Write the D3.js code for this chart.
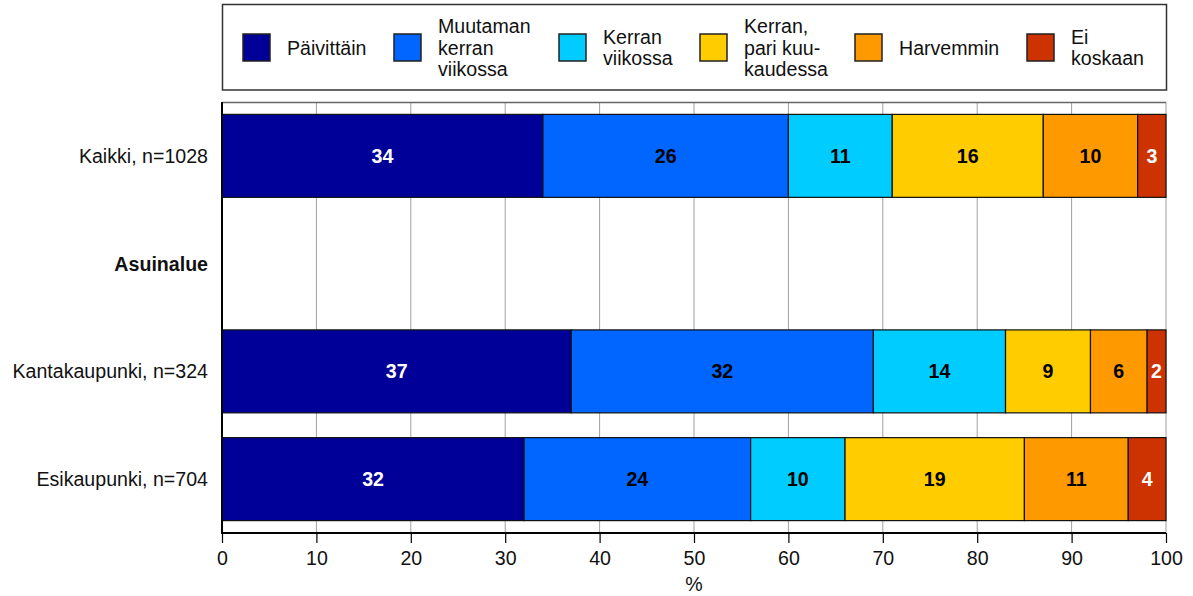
<!DOCTYPE html>
<html><head><meta charset="utf-8">
<script src="https://cdn.jsdelivr.net/npm/d3@7"></script>
<style>
body{margin:0;background:#fff;}
svg{display:block;font-family:"Liberation Sans",Arial,sans-serif;}
</style></head>
<body><svg id="c" width="1193" height="596"></svg>
<script>
const categories = ["Kaikki, n=1028", "Asuinalue", "Kantakaupunki, n=324", "Esikaupunki, n=704"];
const boldCategories = ["Asuinalue"];
const seriesNames = ["Päivittäin", "Muutaman\nkerran\nviikossa", "Kerran\nviikossa", "Kerran,\npari kuu-\nkaudessa", "Harvemmin", "Ei\nkoskaan"];
const seriesColors = ["#000099", "#0066FF", "#00CCFF", "#FFCC00", "#FF9900", "#CC3300"];
const labelColors = ["#fff", "#000", "#000", "#000", "#000", "#fff"];
const kaikki = [34, 26, 11, 16, 10, 3];
const kantakaupunki = [37, 32, 14, 9, 6, 2];
const esikaupunki = [32, 24, 10, 19, 11, 4];
const rowValues = {"Kaikki, n=1028": kaikki, "Kantakaupunki, n=324": kantakaupunki, "Esikaupunki, n=704": esikaupunki};
const xTicks = [0, 10, 20, 30, 40, 50, 60, 70, 80, 90, 100];
const xTitle = "%";
const legendX = [243, 394, 559, 700, 855, 1027];

(function(){
const svg = d3.select("#c");
const pL = 222, pR = 1166, pT = 102, pB = 533;
const FS = 19.6;

const x = d3.scaleLinear().domain([0, 100]).range([pL, pR]);
const y = d3.scaleBand().domain(categories).range([pT, pB]).paddingInner(0.23).paddingOuter(0.115);

// gridlines
svg.append("g").selectAll("line").data(xTicks.filter(d => d > 0)).join("line")
  .attr("x1", d => x(d)).attr("x2", d => x(d)).attr("y1", pT).attr("y2", pB)
  .attr("stroke", "#a0a0a0").attr("stroke-width", 1);
// top frame
svg.append("line").attr("x1", pL).attr("x2", pR).attr("y1", pT + 0.5).attr("y2", pT + 0.5)
  .attr("stroke", "#666").attr("stroke-width", 1.5);

// bars
categories.forEach(cat => {
  const vals = rowValues[cat];
  if (!vals) return;
  let cum = 0;
  const segs = vals.map((v, i) => { const s = {v, i, x0: cum, x1: cum + v}; cum += v; return s; });
  const g = svg.append("g");
  g.selectAll("rect").data(segs).join("rect")
    .attr("x", d => x(d.x0)).attr("width", d => x(d.x1) - x(d.x0))
    .attr("y", y(cat)).attr("height", y.bandwidth())
    .attr("fill", d => seriesColors[d.i]).attr("stroke", "#111").attr("stroke-width", 1.2);
  g.selectAll("text").data(segs).join("text")
    .attr("x", d => (x(d.x0) + x(d.x1)) / 2)
    .attr("y", y(cat) + y.bandwidth() / 2)
    .attr("dy", "0.36em")
    .attr("text-anchor", "middle").attr("font-weight", "bold").attr("font-size", FS)
    .attr("fill", d => labelColors[d.i]).text(d => d.v);
});

// axes
const xAxis = svg.append("g").attr("transform", `translate(0,${pB})`)
  .call(d3.axisBottom(x).tickValues(xTicks).tickSize(10).tickPadding(8).tickFormat(d3.format("d")));
xAxis.select(".domain").remove();
xAxis.selectAll(".tick line").attr("stroke", "#000").attr("stroke-width", 1.2);
xAxis.selectAll(".tick text").attr("font-size", FS).attr("font-family", "Liberation Sans, Arial, sans-serif").attr("fill", "#111");
svg.append("line").attr("x1", pL - 1).attr("x2", pR).attr("y1", pB).attr("y2", pB).attr("stroke", "#000").attr("stroke-width", 2);
svg.append("line").attr("x1", pL).attr("x2", pL).attr("y1", pT).attr("y2", pB + 1).attr("stroke", "#000").attr("stroke-width", 2);

svg.append("text").attr("x", (pL + pR) / 2).attr("y", 591).attr("text-anchor", "middle")
  .attr("font-size", FS).attr("fill", "#111").text(xTitle);

// category labels
svg.append("g").selectAll("text").data(categories).join("text")
  .attr("x", pL - 14).attr("y", d => y(d) + y.bandwidth() / 2).attr("dy", "0.36em")
  .attr("text-anchor", "end").attr("font-size", FS).attr("fill", "#111")
  .attr("font-weight", d => boldCategories.includes(d) ? "bold" : "normal")
  .text(d => d);

// legend
svg.append("rect").attr("x", 222.5).attr("y", 4.5).attr("width", 944).attr("height", 85.5)
  .attr("fill", "#fff").attr("stroke", "#333").attr("stroke-width", 1.5);
const lg = svg.append("g");
const lh = 21.7, cy = 47.5;
seriesNames.forEach((name, i) => {
  const lx = legendX[i];
  lg.append("rect").attr("x", lx).attr("y", 34).attr("width", 27).attr("height", 27)
    .attr("fill", seriesColors[i]).attr("stroke", "#222").attr("stroke-width", 1.5);
  const lines = name.split("\n");
  const t = lg.append("text").attr("font-size", FS).attr("fill", "#111");
  lines.forEach((ln, j) => {
    t.append("tspan").attr("x", lx + 44)
      .attr("y", cy + (j - (lines.length - 1) / 2) * lh).attr("dy", "0.36em").text(ln);
  });
});
})();
</script></body></html>
